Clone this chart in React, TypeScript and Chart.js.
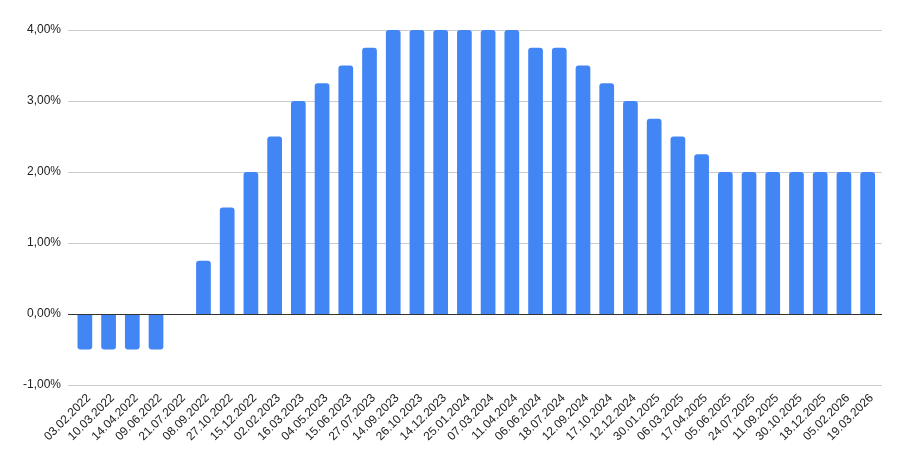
import React, { useEffect, useRef } from "react";
import { Chart, registerables } from "chart.js";

Chart.register(...registerables);

const categories = [
  "03.02.2022", "10.03.2022", "14.04.2022", "09.06.2022", "21.07.2022", "08.09.2022",
  "27.10.2022", "15.12.2022", "02.02.2023", "16.03.2023", "04.05.2023", "15.06.2023",
  "27.07.2023", "14.09.2023", "26.10.2023", "14.12.2023", "25.01.2024", "07.03.2024",
  "11.04.2024", "06.06.2024", "18.07.2024", "12.09.2024", "17.10.2024", "12.12.2024",
  "30.01.2025", "06.03.2025", "17.04.2025", "05.06.2025", "24.07.2025", "11.09.2025",
  "30.10.2025", "18.12.2025", "05.02.2026", "19.03.2026",
];

const rates = [
  -0.5, -0.5, -0.5, -0.5, 0, 0.75,
  1.5, 2.0, 2.5, 3.0, 3.25, 3.5,
  3.75, 4.0, 4.0, 4.0, 4.0, 4.0,
  4.0, 3.75, 3.75, 3.5, 3.25, 3.0,
  2.75, 2.5, 2.25, 2.0, 2.0, 2.0,
  2.0, 2.0, 2.0, 2.0,
];

const yMin = -1;
const yMax = 4;
const yStep = 1;

const gridPlugin = {
  id: "extendedGrid",
  beforeDatasetsDraw(chart: any) {
    const { ctx, chartArea, scales } = chart;
    const y = scales.y;
    ctx.save();
    ctx.lineWidth = 1;
    for (const t of y.ticks) {
      const py = Math.round(y.getPixelForValue(t.value)) + 0.5;
      ctx.strokeStyle = t.value === 0 ? "#333333" : "#cccccc";
      ctx.beginPath();
      ctx.moveTo(chartArea.left - 5, py);
      ctx.lineTo(chartArea.right + 2.5, py);
      ctx.stroke();
    }
    ctx.restore();
  },
  afterDatasetsDraw(chart: any) {
    const { ctx, chartArea, scales } = chart;
    const y = scales.y;
    const py = Math.round(y.getPixelForValue(0)) + 0.5;
    ctx.save();
    ctx.lineWidth = 1;
    ctx.strokeStyle = "#333333";
    ctx.beginPath();
    ctx.moveTo(chartArea.left - 5, py);
    ctx.lineTo(chartArea.right + 2.5, py);
    ctx.stroke();
    ctx.restore();
  },
};

export default function App() {
  const ref = useRef<HTMLCanvasElement | null>(null);

  useEffect(() => {
    document.body.style.margin = "0";
    const canvas = ref.current;
    if (!canvas) return;
    const chart = new Chart(canvas, {
      type: "bar",
      data: {
        labels: categories,
        datasets: [
          {
            data: rates,
            backgroundColor: "#4285F4",
            borderRadius: 3,
            borderSkipped: "start",
            categoryPercentage: 1,
            barPercentage: 0.62,
          },
        ],
      },
      options: {
        animation: false,
        responsive: false,
        maintainAspectRatio: false,
        layout: { padding: { top: 30, right: 26.5, left: 0, bottom: 0 } },
        plugins: { legend: { display: false }, tooltip: { enabled: false } },
        scales: {
          x: {
            grid: { display: false },
            border: { display: false },
            ticks: {
              autoSkip: false,
              maxRotation: 45,
              minRotation: 45,
              padding: -2,
              labelOffset: 4,
              color: "#222",
              font: { family: "Liberation Sans, Arial, sans-serif", size: 12 },
            },
            afterFit: (scale: any) => {
              scale.height = 78;
            },
          },
          y: {
            min: yMin,
            max: yMax,
            ticks: {
              stepSize: yStep,
              padding: 12,
              color: "#222",
              font: { family: "Liberation Sans, Arial, sans-serif", size: 12 },
              callback: (v: any) => Number(v).toFixed(2).replace(".", ",") + "%",
            },
            grid: { display: false, drawTicks: false },
            border: { display: false },
            afterFit: (scale: any) => {
              scale.width = 73;
            },
          },
        },
      },
      plugins: [gridPlugin],
    });
    return () => chart.destroy();
  }, []);

  return (
    <div style={{ position: "absolute", left: 0, top: 0, width: 906, height: 463 }}>
      <canvas ref={ref} width={906} height={463} />
    </div>
  );
}
